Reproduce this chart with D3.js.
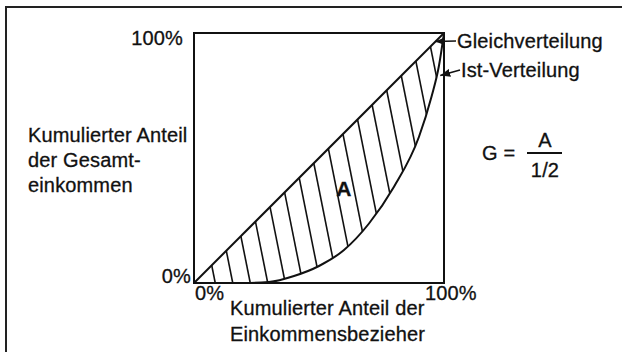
<!DOCTYPE html>
<html>
<head>
<meta charset="utf-8">
<script src="https://cdn.jsdelivr.net/npm/d3@7"></script>
<style>
  body { margin: 0; background: #fff; }
  text { font-family: "Liberation Sans", Arial, Helvetica, sans-serif; fill: #111; stroke: #111; stroke-width: 0.3px; letter-spacing: 0.15px; }
</style>
</head>
<body>
<div id="lorenz"></div>
<script>
// Lorenz curve: cumulative share of earners vs cumulative share of income
var earnerShare = [0, 0.1, 0.2, 0.3, 0.4, 0.5, 0.6, 0.7, 0.8, 0.9, 0.95, 0.98, 1];
var incomeShare = [0, 0, 0, 0.004, 0.028, 0.068, 0.132, 0.238, 0.385, 0.585, 0.745, 0.87, 1];
// tick labels at both ends of each axis
var xTicks = [0, 1];
var yTicks = [0, 1];

var width = 622, height = 352;
var box = {left: 194, top: 33, size: 250};

var svg = d3.select("#lorenz")
  .append("svg")
    .attr("width", width)
    .attr("height", height);

var x = d3.scaleLinear().domain([0, 1]).range([box.left, box.left + box.size]);
var y = d3.scaleLinear().domain([0, 1]).range([box.top + box.size, box.top]);

var pts = earnerShare.map(function(e, i) { return {e: e, inc: incomeShare[i]}; });

// outer frame (only top and left visible, rest is cut off)
svg.append("path")
  .attr("d", "M6," + height + "V7H" + width)
  .attr("fill", "none")
  .attr("stroke", "#222")
  .attr("stroke-width", 2);

// arrow head
svg.append("defs").append("marker")
  .attr("id", "arrow")
  .attr("markerUnits", "userSpaceOnUse")
  .attr("viewBox", "0 0 10 8")
  .attr("refX", 10).attr("refY", 4)
  .attr("markerWidth", 10).attr("markerHeight", 8)
  .attr("orient", "auto")
  .append("path")
    .attr("d", "M0,0L10,4L0,8Z")
    .attr("fill", "#111");

// hatched area between equality line and Lorenz curve
var area = d3.area()
  .x(function(d) { return x(d.e); })
  .y0(function(d) { return y(d.inc); })
  .y1(function(d) { return y(d.e); })
  .curve(d3.curveMonotoneX);

svg.select("defs").append("clipPath")
  .attr("id", "areaClip")
  .append("path")
    .attr("d", area(pts));

var lean = 0.2, step = 0.07;
var hatch = d3.range(0.085, 1.25, step);
svg.append("g")
  .attr("clip-path", "url(#areaClip)")
  .selectAll("line")
  .data(hatch)
  .join("line")
    .attr("x1", function(d) { return x(d); })
    .attr("y1", y(0))
    .attr("x2", function(d) { return x(d) - lean * box.size; })
    .attr("y2", y(1))
    .attr("stroke", "#111")
    .attr("stroke-width", 1.6);

// equality line
svg.append("line")
  .attr("x1", x(0)).attr("y1", y(0))
  .attr("x2", x(1)).attr("y2", y(1))
  .attr("stroke", "#111")
  .attr("stroke-width", 2);

// Lorenz curve
svg.append("path")
  .datum(pts)
  .attr("fill", "none")
  .attr("stroke", "#111")
  .attr("stroke-width", 2)
  .attr("d", d3.line()
    .x(function(d) { return x(d.e); })
    .y(function(d) { return y(d.inc); })
    .curve(d3.curveMonotoneX));

// square frame
svg.append("rect")
  .attr("x", x(0)).attr("y", y(1))
  .attr("width", x(1) - x(0)).attr("height", y(0) - y(1))
  .attr("fill", "none")
  .attr("stroke", "#111")
  .attr("stroke-width", 2);

var pct = d3.format(".0%");
var fs = "20px";

// y tick labels
svg.selectAll("text.ytick")
  .data(yTicks)
  .join("text")
    .attr("class", "ytick")
    .attr("x", function(d) { return d == 0 ? x(0) - 3 : x(0) - 11; })
    .attr("y", function(d) { return d == 0 ? y(d) : y(d) + 12; })
    .attr("text-anchor", "end")
    .style("font-size", fs)
    .text(pct);

// x tick labels
svg.selectAll("text.xtick")
  .data(xTicks)
  .join("text")
    .attr("class", "xtick")
    .attr("x", function(d) { return d == 0 ? x(0) + 1 : x(d) - 19; })
    .attr("y", y(0) + 17)
    .style("font-size", fs)
    .text(pct);

// axis titles
var yTitle = ["Kumulierter Anteil", "der Gesamt-", "einkommen"];
svg.selectAll("text.ytitle")
  .data(yTitle)
  .join("text")
    .attr("class", "ytitle")
    .attr("x", 28)
    .attr("y", function(d, i) { return 142 + i * 25; })
    .style("font-size", fs)
    .text(function(d) { return d; });

var xTitle = ["Kumulierter Anteil der", "Einkommensbezieher"];
svg.selectAll("text.xtitle")
  .data(xTitle)
  .join("text")
    .attr("class", "xtitle")
    .attr("x", 230)
    .attr("y", function(d, i) { return 315 + i * 26; })
    .style("font-size", fs)
    .text(function(d) { return d; });

// area label
svg.append("text")
  .attr("x", x(0.6)).attr("y", y(0.35))
  .attr("text-anchor", "middle")
  .style("font-size", "21px")
  .style("font-weight", "bold")
  .text("A");

// annotations with arrows
var notes = [
  {label: "Gleichverteilung", tx: 0.965, ty: 0.966, lx: 456, ly: 41},
  {label: "Ist-Verteilung", tx: 0.985, ty: 0.83, lx: 460, ly: 70}
];
svg.selectAll("line.note")
  .data(notes)
  .join("line")
    .attr("class", "note")
    .attr("x1", function(d) { return d.lx; })
    .attr("y1", function(d) { return d.ly; })
    .attr("x2", function(d) { return x(d.tx); })
    .attr("y2", function(d) { return y(d.ty); })
    .attr("stroke", "#111")
    .attr("stroke-width", 1.5)
    .attr("marker-end", "url(#arrow)");
svg.selectAll("text.note")
  .data(notes)
  .join("text")
    .attr("class", "note")
    .attr("x", function(d) { return d.lx + 1; })
    .attr("y", function(d) { return d.ly + 7; })
    .style("font-size", fs)
    .text(function(d) { return d.label; });

// Gini formula
var formula = svg.append("g").style("font-size", fs);
formula.append("text").attr("x", 482).attr("y", 160).text("G =");
formula.append("line")
  .attr("x1", 527).attr("x2", 562)
  .attr("y1", 153).attr("y2", 153)
  .attr("stroke", "#111").attr("stroke-width", 2);
formula.append("text").attr("x", 545).attr("y", 147)
  .attr("text-anchor", "middle").text("A");
formula.append("text").attr("x", 545).attr("y", 177)
  .attr("text-anchor", "middle").text("1/2");
</script>
</body>
</html>
